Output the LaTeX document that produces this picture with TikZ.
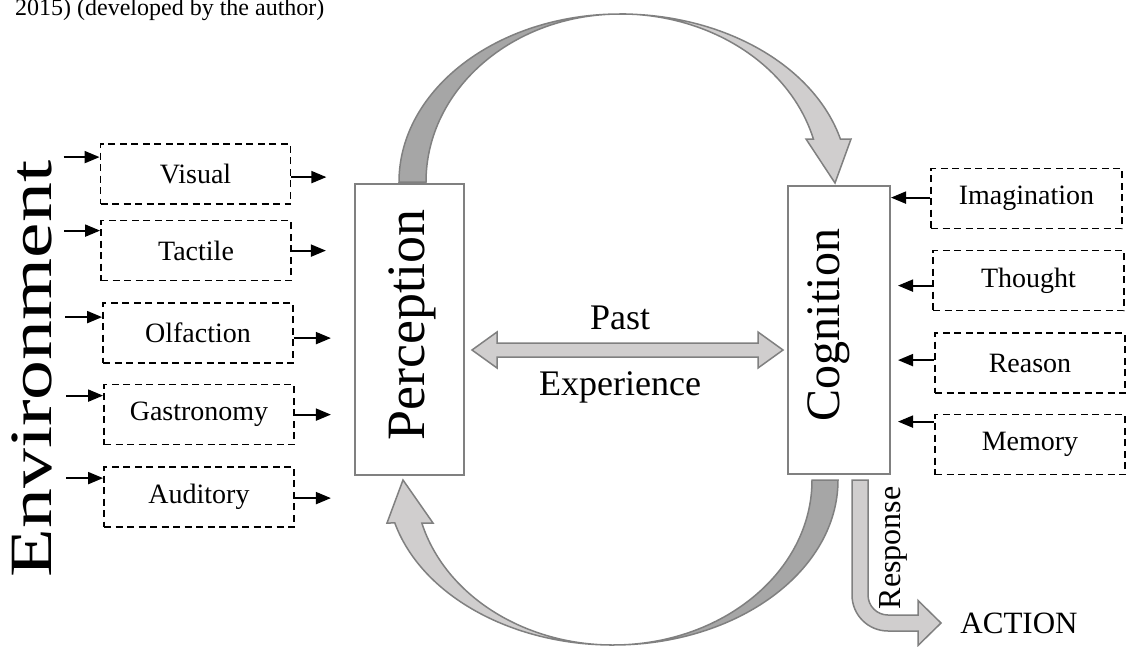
\documentclass[tikz,border=0pt]{standalone}
\usepackage{fontspec}
\setmainfont{Liberation Serif}
\usetikzlibrary{arrows.meta,calc}
\definecolor{edgegray}{HTML}{808080}
\definecolor{bandlight}{HTML}{D0CECE}
\definecolor{banddark}{HTML}{A6A6A6}
\begin{document}
\begin{tikzpicture}[x=1pt,y=-1pt,
  sense/.style={draw=black,line width=1.8pt,dash pattern=on 7pt off 4.5pt,
    minimum width=190pt,minimum height=60pt,inner sep=0pt,
    font=\fontsize{28}{30}\selectfont},
  stage/.style={draw=edgegray,line width=2pt,inner sep=0pt,fill=white},
  feed/.style={line width=1.9pt,-{Triangle[length=15pt,width=12pt]}},
  band/.style={draw=edgegray,line width=1.5pt,line join=miter}]
\useasboundingbox (0,0) rectangle (1127,646);
\fill[white] (0,0) rectangle (1127,646);

% caption line running in from above
\node[anchor=base west,inner sep=0pt,font=\fontsize{24}{26}\selectfont] (cap) at (15,15)
  {2015) (developed by the author)};

% environment label
\node[rotate=90,inner sep=0pt,font=\fontsize{60}{66}\selectfont] (env) at (32,369)
  {\scalebox{1.33}[1]{Environment}};

% senses
\node[sense] (vis) at (195.5,174) {Visual};
\node[sense] (tac) at (196,250.5) {Tactile};
\node[sense] (olf) at (198,333) {Olfaction};
\node[sense] (gas) at (199,414.5) {Gastronomy};
\node[sense] (aud) at (199,497) {Auditory};

% mental faculties
\node[sense,minimum width=191pt] (img) at (1026.5,198.5) {Imagination};
\node[sense,minimum width=191pt] (tho) at (1028.5,280.5) {Thought};
\node[sense] (rea) at (1030,363) {Reason};
\node[sense] (mem) at (1030,444.5) {Memory};

% two stages
\node[stage,minimum width=109pt,minimum height=291pt] (perc) at (409.5,329.5) {};
\node[rotate=90,inner sep=0pt,font=\fontsize{54}{60}\selectfont] (perctxt) at (412,325) {Perception};
\node[stage,minimum width=102pt,minimum height=288pt] (cog) at (839,330) {};
\node[rotate=90,inner sep=0pt,font=\fontsize{48}{54}\selectfont] (cogtxt) at (829,325) {Cognition};

% stimuli entering the senses
\draw[feed] ([shift={(-36,14)}]vis.north west) -- ([shift={(0,14)}]vis.north west);
\draw[feed] ([shift={(-36,11)}]tac.north west) -- ([shift={(0,11)}]tac.north west);
\draw[feed] ([shift={(-37,15)}]olf.north west) -- ([shift={(0,15)}]olf.north west);
\draw[feed] ([shift={(-37,12)}]gas.north west) -- ([shift={(0,12)}]gas.north west);
\draw[feed] ([shift={(-37,12)}]aud.north west) -- ([shift={(0,12)}]aud.north west);

% senses passing on to perception
\draw[feed] ([shift={(0,34)}]vis.north east) -- ([shift={(35,34)}]vis.north east);
\draw[feed] ([shift={(0,31)}]tac.north east) -- ([shift={(34,31)}]tac.north east);
\draw[feed] ([shift={(0,36)}]olf.north east) -- ([shift={(37,36)}]olf.north east);
\draw[feed] ([shift={(0,31)}]gas.north east) -- ([shift={(36,31)}]gas.north east);
\draw[feed] ([shift={(0,32)}]aud.north east) -- ([shift={(36,32)}]aud.north east);

% faculties feeding cognition
\coordinate (f1) at ($(img.north west)+(0,30)$);
\coordinate (f2) at ($(tho.north west)+(0,36)$);
\coordinate (f3) at ($(rea.north west)+(0,28)$);
\coordinate (f4) at ($(mem.north west)+(0,8)$);
\draw[feed] (f1) -- (cog.east |- f1);
\draw[feed] (f2) -- ($(cog.east |- f2)+(7,0)$);
\draw[feed] (f3) -- ($(cog.east |- f3)+(7,0)$);
\draw[feed] (f4) -- ($(cog.east |- f4)+(7,0)$);

% past experience, both ways
\coordinate (pl) at (472,350);
\coordinate (pr) at (783,350);
\filldraw[band,fill=bandlight] (pl) -- ++(25,-18) -- ++(0,11) -- ($(pr)+(-25,-7)$)
  -- ++(0,-11) -- (pr) -- ++(-25,18) -- ++(0,-11) -- ($(pl)+(25,7)$) -- ++(0,11) -- cycle;
\node[font=\fontsize{36}{40}\selectfont,inner sep=0pt] (past) at (620,318) {Past};
\node[font=\fontsize{36}{40}\selectfont,inner sep=0pt] (expe) at (620,387) {Experience};

% upper arch: perception to cognition
\filldraw[band,fill=banddark] (399,182)
  arc[start angle=180,end angle=270,x radius=221,y radius=168]
  arc[start angle=270,end angle=180,x radius=194,y radius=168] -- cycle;
\filldraw[band,fill=bandlight] (620,14)
  arc[start angle=270,end angle=345.2,x radius=228,y radius=168]
  -- (851,139) -- (835,183) -- (806,139) -- (813.4,139)
  arc[start angle=345.2,end angle=270,x radius=200,y radius=168] -- cycle;

% lower arch: cognition back to perception
\filldraw[band,fill=banddark] (838,480)
  arc[start angle=0,end angle=90,x radius=225,y radius=165]
  arc[start angle=90,end angle=0,x radius=199,y radius=165] -- cycle;
\filldraw[band,fill=bandlight] (613,645)
  arc[start angle=90,end angle=164.9,x radius=226,y radius=165]
  -- (387,523) -- (403,480) -- (433,523) -- (421.8,523)
  arc[start angle=164.9,end angle=90,x radius=198,y radius=165] -- cycle;

% response leading to action
\filldraw[band,fill=bandlight] (852,480) -- (852,595)
  arc[start angle=180,end angle=90,radius=36] -- (918,631) -- (918,645.5)
  -- (941,623) -- (918,600.5) -- (918,615) -- (888,615)
  arc[start angle=90,end angle=180,radius=20] -- (868,480) -- cycle;
\node[rotate=90,inner sep=0pt,font=\fontsize{32}{36}\selectfont] (resp) at (893,548) {Response};
\node[inner sep=0pt,font=\fontsize{31}{34}\selectfont] (act) at (1019,623) {ACTION};
\end{tikzpicture}
\end{document}
